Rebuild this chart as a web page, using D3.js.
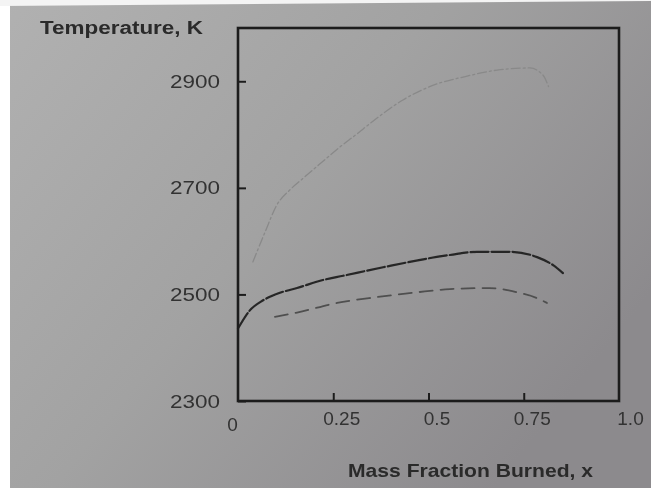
<!DOCTYPE html>
<html>
<head>
<meta charset="utf-8">
<script src="https://cdn.jsdelivr.net/npm/d3@7"></script>
<style>
  html, body { margin: 0; padding: 0; background: #ffffff; }
  svg { display: block; }
</style>
</head>
<body>
<div id="chart"></div>
<script>
// ---- data ----
const xTicks = [0, 0.25, 0.5, 0.75, 1.0];
const xTickLabels = ["0", "0.25", "0.5", "0.75", "1.0"];
const yTicks = [2300, 2500, 2700, 2900];
const yTickLabels = ["2300", "2500", "2700", "2900"];

// upper (faint) curve
const upperX = [0.039, 0.071, 0.102, 0.136, 0.171, 0.220, 0.268, 0.310, 0.354, 0.433, 0.522, 0.591, 0.680, 0.766, 0.800, 0.815];
const upperT = [2561, 2617, 2668, 2696, 2718, 2748, 2777, 2800, 2825, 2865, 2895, 2908, 2921, 2925, 2912, 2890];

// middle (dark, long-dash) curve
const middleX = [0.0, 0.031, 0.066, 0.110, 0.155, 0.223, 0.276, 0.381, 0.556, 0.627, 0.714, 0.785, 0.827, 0.853];
const middleT = [2436, 2470, 2489, 2503, 2512, 2527, 2535, 2551, 2574, 2580, 2580, 2570, 2555, 2540];

// lower (dashed) curve
const lowerX = [0.097, 0.155, 0.260, 0.365, 0.470, 0.556, 0.661, 0.732, 0.785, 0.811];
const lowerT = [2458, 2466, 2484, 2495, 2504, 2510, 2512, 2504, 2493, 2484];

const yTitle = "Temperature, K";
const xTitle = "Mass Fraction Burned, x";

// ---- drawing ----
const W = 651, H = 488;
const svg = d3.select("#chart").append("svg").attr("width", W).attr("height", H);

const defs = svg.append("defs");
const grad = defs.append("linearGradient").attr("id", "bg")
  .attr("x1", "0%").attr("y1", "0%").attr("x2", "100%").attr("y2", "60%");
grad.append("stop").attr("offset", "0%").attr("stop-color", "#b1b1b1");
grad.append("stop").attr("offset", "50%").attr("stop-color", "#a2a2a2");
grad.append("stop").attr("offset", "100%").attr("stop-color", "#8c8a8d");
const blur = defs.append("filter").attr("id", "soft");
blur.append("feGaussianBlur").attr("stdDeviation", 0.6);

// photo background
svg.append("rect").attr("width", W).attr("height", H).attr("fill", "url(#bg)");
svg.append("rect").attr("x", 0).attr("y", 0).attr("width", 10).attr("height", H).attr("fill", "#ffffff");
svg.append("path").attr("d", "M0,0 L651,0 L651,1 L0,6 Z").attr("fill", "#f4f4f4");

const mLeft = 238, mRight = 619, mTop = 28, mBottom = 401;
const x = d3.scaleLinear().domain([0, 1]).range([mLeft, mRight]);
const y = d3.scaleLinear().domain([2300, 3000]).range([mBottom, mTop]);

const g = svg.append("g").attr("filter", "url(#soft)");

// curves
const line = d3.line().x(d => x(d[0])).y(d => y(d[1])).curve(d3.curveMonotoneX);
const series = [
  { xs: upperX, ts: upperT, color: "#898989", width: 1.3, dash: "9,3,2,3" },
  { xs: middleX, ts: middleT, color: "#262626", width: 2.2, dash: "18,3" },
  { xs: lowerX, ts: lowerT, color: "#4f4f4f", width: 1.8, dash: "13,8" }
];
series.forEach(s => {
  g.append("path")
    .datum(s.xs.map((v, i) => [v, s.ts[i]]))
    .attr("d", line)
    .attr("fill", "none")
    .attr("stroke", s.color)
    .attr("stroke-width", s.width)
    .attr("stroke-dasharray", s.dash)
    .attr("stroke-linecap", "round");
});

// frame
g.append("rect")
  .attr("x", mLeft).attr("y", mTop)
  .attr("width", mRight - mLeft).attr("height", mBottom - mTop)
  .attr("fill", "none").attr("stroke", "#1e1e1e").attr("stroke-width", 2.6);

// y axis
const yAxis = d3.axisLeft(y).tickValues(yTicks)
  .tickFormat((d, i) => yTickLabels[i]).tickSize(-8).tickPadding(18);
const ya = g.append("g").attr("transform", `translate(${mLeft},0)`).call(yAxis);
ya.select(".domain").remove();
ya.selectAll(".tick line").attr("stroke", "#1e1e1e").attr("stroke-width", 2);
ya.selectAll(".tick text")
  .attr("font-family", "Liberation Sans, Arial, sans-serif")
  .attr("font-size", 19).attr("fill", "#333333")
  .attr("textLength", 50).attr("lengthAdjust", "spacingAndGlyphs");

// x axis
const xAxis = d3.axisBottom(x).tickValues(xTicks)
  .tickFormat((d, i) => xTickLabels[i]).tickSize(-8).tickPadding(11);
const xa = g.append("g").attr("transform", `translate(0,${mBottom})`).call(xAxis);
xa.select(".domain").remove();
xa.selectAll(".tick line").attr("stroke", "#1e1e1e").attr("stroke-width", 2)
  .filter(d => d === 0 || d === 1).remove();
xa.selectAll(".tick text")
  .attr("font-family", "Liberation Sans, Arial, sans-serif")
  .attr("font-size", 19).attr("fill", "#333333")
  .attr("dx", d => d === 0 ? -6 : (d === 1 ? 11 : 8))
  .attr("dy", d => d === 0 ? "1.0em" : "0.71em");

// titles
g.append("text")
  .attr("x", 40).attr("y", 34)
  .attr("font-family", "Liberation Sans, Arial, sans-serif")
  .attr("font-weight", "bold").attr("font-size", 18).attr("fill", "#2a2a2a")
  .attr("textLength", 163).attr("lengthAdjust", "spacingAndGlyphs")
  .text(yTitle);

g.append("text")
  .attr("x", 348).attr("y", 477)
  .attr("font-family", "Liberation Sans, Arial, sans-serif")
  .attr("font-weight", "bold").attr("font-size", 19).attr("fill", "#2a2a2a")
  .attr("textLength", 245).attr("lengthAdjust", "spacingAndGlyphs")
  .text(xTitle);
</script>
</body>
</html>
